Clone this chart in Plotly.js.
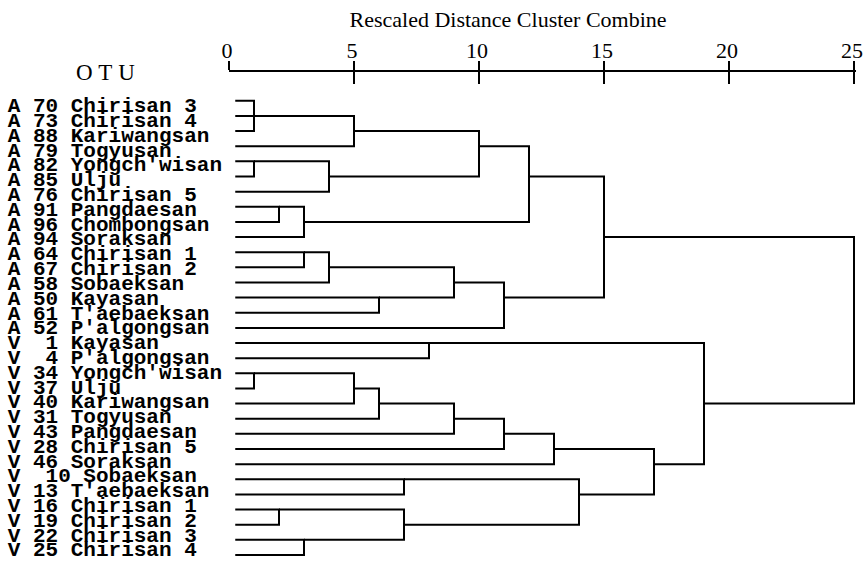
<!DOCTYPE html>
<html>
<head>
<meta charset="utf-8">
<script src="https://cdn.plot.ly/plotly-3.0.1.min.js"></script>
<style>html,body{margin:0;padding:0;background:#fff;}#chart{width:864px;height:564px;}</style>
</head>
<body>
<div id="chart"></div>
<script>
// OTU labels, top to bottom
const leafLabels = [
  "A 70 Chirisan 3", "A 73 Chirisan 4", "A 88 Kariwangsan", "A 79 Togyusan",
  "A 82 Yongch'wisan", "A 85 Ulju", "A 76 Chirisan 5", "A 91 Pangdaesan",
  "A 96 Chombongsan", "A 94 Soraksan", "A 64 Chirisan 1", "A 67 Chirisan 2",
  "A 58 Sobaeksan", "A 50 Kayasan", "A 61 T'aebaeksan", "A 52 P'algongsan",
  "V  1 Kayasan", "V  4 P'algongsan", "V 34 Yongch'wisan", "V 37 Ulju",
  "V 40 Kariwangsan", "V 31 Togyusan", "V 43 Pangdaesan", "V 28 Chirisan 5",
  "V 46 Soraksan", "V  10 Sobaeksan", "V 13 T'aebaeksan", "V 16 Chirisan 1",
  "V 19 Chirisan 2", "V 22 Chirisan 3", "V 25 Chirisan 4"
];
// Rescaled distance ticks
const distanceTicks = [0, 5, 10, 15, 20, 25];
// Agglomeration steps: leaves are 0..30, each step creates node 31, 32, ...
const mergeA = [0, 31, 32, 4, 34, 33, 7, 37, 36, 10, 40, 13, 41, 43, 39, 16, 18, 47, 48, 49, 50, 51, 25, 27, 29, 54, 53, 52, 46, 45];
const mergeB = [1, 2, 3, 5, 6, 35, 8, 9, 38, 11, 12, 14, 42, 15, 44, 17, 19, 20, 21, 22, 23, 24, 26, 28, 30, 55, 56, 57, 58, 59];
const mergeHeight = [1, 1, 5, 1, 4, 10, 2, 3, 12, 3, 4, 6, 9, 11, 15, 8, 1, 5, 6, 9, 11, 13, 7, 2, 3, 7, 14, 17, 19, 25];

const leafStart = 0.25;
const nLeaves = leafLabels.length;
const nodeRow = [], nodeX = [];
for (let i = 0; i < nLeaves; i++) { nodeRow.push(i); nodeX.push(leafStart); }
const lx = [], ly = [];
for (let k = 0; k < mergeA.length; k++) {
  const a = mergeA[k], b = mergeB[k], h = mergeHeight[k];
  lx.push(nodeX[a], h, h, nodeX[b], null);
  ly.push(nodeRow[a], nodeRow[a], nodeRow[b], nodeRow[b], null);
  nodeRow.push(Math.floor((nodeRow[a] + nodeRow[b]) / 2));
  nodeX.push(h);
}

const maxLen = Math.max(...leafLabels.map(s => s.length));
const tickText = leafLabels.map(s => (s + " ".repeat(maxLen - s.length)).replace(/ /g, "\u00a0"));
const tickRows = leafLabels.map((s, i) => i);

const traces = [
  {x: lx, y: ly, mode: 'lines', line: {color: '#000', width: 2}, hoverinfo: 'skip', showlegend: false},
  {x: [0, 25], y: [null, null], xaxis: 'x2', mode: 'lines', hoverinfo: 'skip', showlegend: false},
  {x: [0, 25], y: [null, null], yaxis: 'y2', mode: 'lines', hoverinfo: 'skip', showlegend: false}
];

const layout = {
  width: 864, height: 564,
  paper_bgcolor: '#fff', plot_bgcolor: '#fff',
  margin: {l: 229, r: 8, t: 72, b: 0, pad: 0},
  showlegend: false,
  title: {
    text: 'Rescaled Distance Cluster Combine',
    font: {family: 'Liberation Serif', size: 22, color: '#000'},
    xref: 'container', yref: 'container', x: 0.588, y: 0.965, xanchor: 'center', yanchor: 'middle'
  },
  xaxis: {
    side: 'top', anchor: 'y', range: [0, 25.08],
    tickmode: 'array', tickvals: distanceTicks, ticktext: distanceTicks.map(String),
    ticks: 'outside', ticklen: 9, tickwidth: 2, tickcolor: '#000',
    ticklabelstandoff: -6, ticklabelshift: -2, ticklabeloverflow: 'allow',
    showline: true, linewidth: 2, linecolor: '#000',
    showgrid: false, zeroline: false,
    tickfont: {family: 'Liberation Serif', size: 22, color: '#000'}
  },
  xaxis2: {
    overlaying: 'x', side: 'top', anchor: 'y', range: [0, 25.08],
    tickmode: 'array', tickvals: distanceTicks,
    ticks: 'inside', ticklen: 12, tickwidth: 2, tickcolor: '#000',
    showticklabels: false, showline: false, showgrid: false, zeroline: false
  },
  yaxis: {
    range: [30.595, -1.902],
    showticklabels: false, ticks: '', showline: false, showgrid: false, zeroline: false
  },
  yaxis2: {
    overlaying: 'y', side: 'left', anchor: 'x',
    range: [31.005, -2.215],
    tickmode: 'array', tickvals: tickRows, ticktext: tickText,
    ticks: '', showline: false, showgrid: false, zeroline: false,
    ticklabelstandoff: 6, ticklabeloverflow: 'allow',
    tickfont: {family: 'Liberation Mono', size: 21, color: '#000', weight: 'bold'}
  },
  annotations: [{
    text: 'O\u00a0T\u00a0U', xref: 'paper', yref: 'paper', x: -0.197, y: 0.999,
    xanchor: 'center', yanchor: 'middle', showarrow: false,
    font: {family: 'Liberation Serif', size: 23, color: '#000'}
  }]
};

Plotly.newPlot('chart', traces, layout, {staticPlot: true, displayModeBar: false});
</script>
</body>
</html>
